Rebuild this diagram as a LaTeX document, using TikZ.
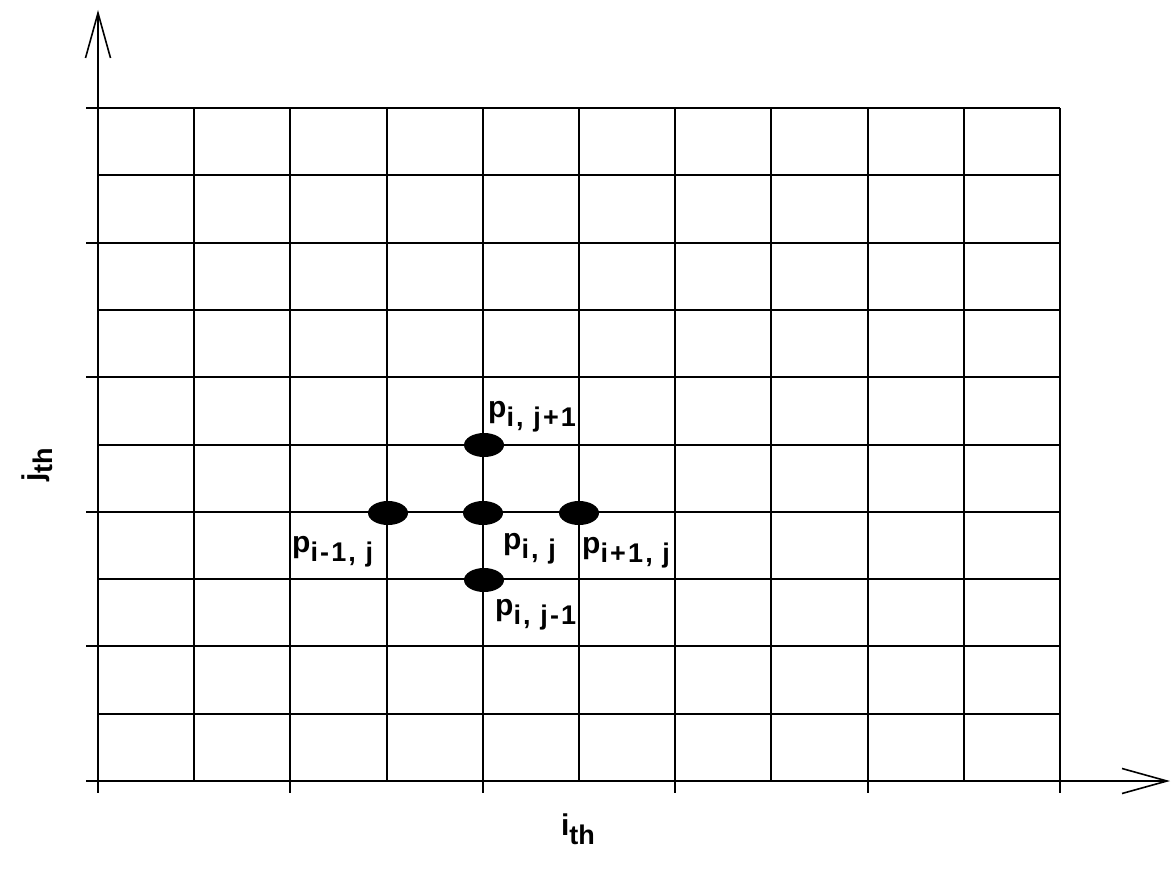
\documentclass[tikz,border=0pt]{standalone}
\usepackage{fontspec}
\setmainfont{Liberation Sans}
\usetikzlibrary{shapes.geometric,arrows.meta}
\newfontfamily\subfont[LetterSpace=8]{Liberation Sans}
\newcommand\pLab[1]{{\fontsize{30}{30}\selectfont p}\raisebox{-9.5pt}{\subfont\bfseries\fontsize{27}{27}\selectfont #1}}

\begin{document}

\begin{tikzpicture}[x=1pt,y=-1pt,
  gridline/.style={line width=2pt,black},
  axisline/.style={line width=1.6pt,black},
  ptdot/.style={ellipse,fill=black,draw=none,minimum width=40pt,minimum height=24pt,inner sep=0pt},
  plabel/.style={anchor=base west,inner sep=0pt,font=\bfseries},
  barb/.style={-{Straight Barb[length=45pt,width=25pt,line width=1.6pt]}}]
\path[use as bounding box,fill=white] (0,0) rectangle (1172,875);
% grid
\foreach \i in {0,...,10}
  \draw[gridline] ({98+96.2*\i},108) -- ({98+96.2*\i},781);
\foreach \j in {0,...,9}
  \draw[gridline] (98,{108+67.3*\j}) -- (1060,{108+67.3*\j});
% axes
\coordinate (O) at (98,781);
\coordinate (ytip) at (98,10);
\coordinate (xtip) at (1170,781);
\coordinate (xend) at (1060,781);
\draw[axisline,barb] (O) -- (ytip);
\draw[gridline] (O) -- (xend);
\draw[axisline,barb] (xend) -- (xtip);
% ticks
\foreach \j in {0,2,4,6,8,10}
  \draw[gridline] (86,{108+67.3*\j}) -- (98,{108+67.3*\j});
\foreach \i in {0,2,4,6,8,10}
  \draw[gridline] ({98+96.2*\i},781) -- ({98+96.2*\i},793);
% points
\node[ptdot] (pij) at (483,513) {};
\node[ptdot] (pijp) at (484,445) {};
\node[ptdot] (pijm) at (484,580) {};
\node[ptdot] (pimj) at (388,513) {};
\node[ptdot] (pipj) at (579,513) {};
% labels
\node[plabel] (lijp) at (488,417) {\pLab{i, j+1}};
\node[plabel] (limj) at (292,552) {\pLab{i-1, j}};
\node[plabel] (lij) at (503,549) {\pLab{i, j}};
\node[plabel] (lipj) at (582,553) {\pLab{i+1, j}};
\node[plabel] (lijm) at (495,615) {\pLab{i, j-1}};
% axis labels
\node[font=\bfseries,inner sep=0pt] (ith) at (578,829) {{\fontsize{30}{30}\selectfont i}\raisebox{-9.5pt}{\fontsize{27}{27}\selectfont th}};
\node[font=\bfseries,inner sep=0pt,rotate=90] (jth) at (37,465) {{\fontsize{30}{30}\selectfont j}\raisebox{-9.5pt}{\fontsize{27}{27}\selectfont th}};
\end{tikzpicture}

\end{document}
